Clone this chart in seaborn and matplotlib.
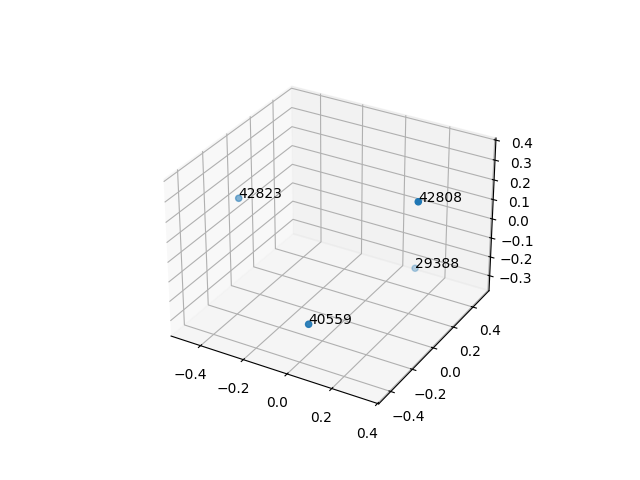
import matplotlib
matplotlib.use('Agg')
import matplotlib.pyplot as plt
import seaborn as sns

# values
labels = ['42823', '42808', '29388', '40559']
x_vals = [-0.48, 0.345, 0.09, 0.063]
y_vals = [-0.021, -0.049, 0.50, -0.44]
z_vals = [0.11, 0.36, -0.33, -0.141]

color = sns.color_palette('tab10')[0]

fig = plt.figure(figsize=(6.4, 4.8), dpi=100)
ax = fig.add_subplot(projection='3d')
ax.scatter(x_vals, y_vals, z_vals, color=color)

for lab, x, y, z in zip(labels, x_vals, y_vals, z_vals):
    ax.text(x, y, z, lab, size=10, color='k')

plt.savefig('out.png', dpi=100)
